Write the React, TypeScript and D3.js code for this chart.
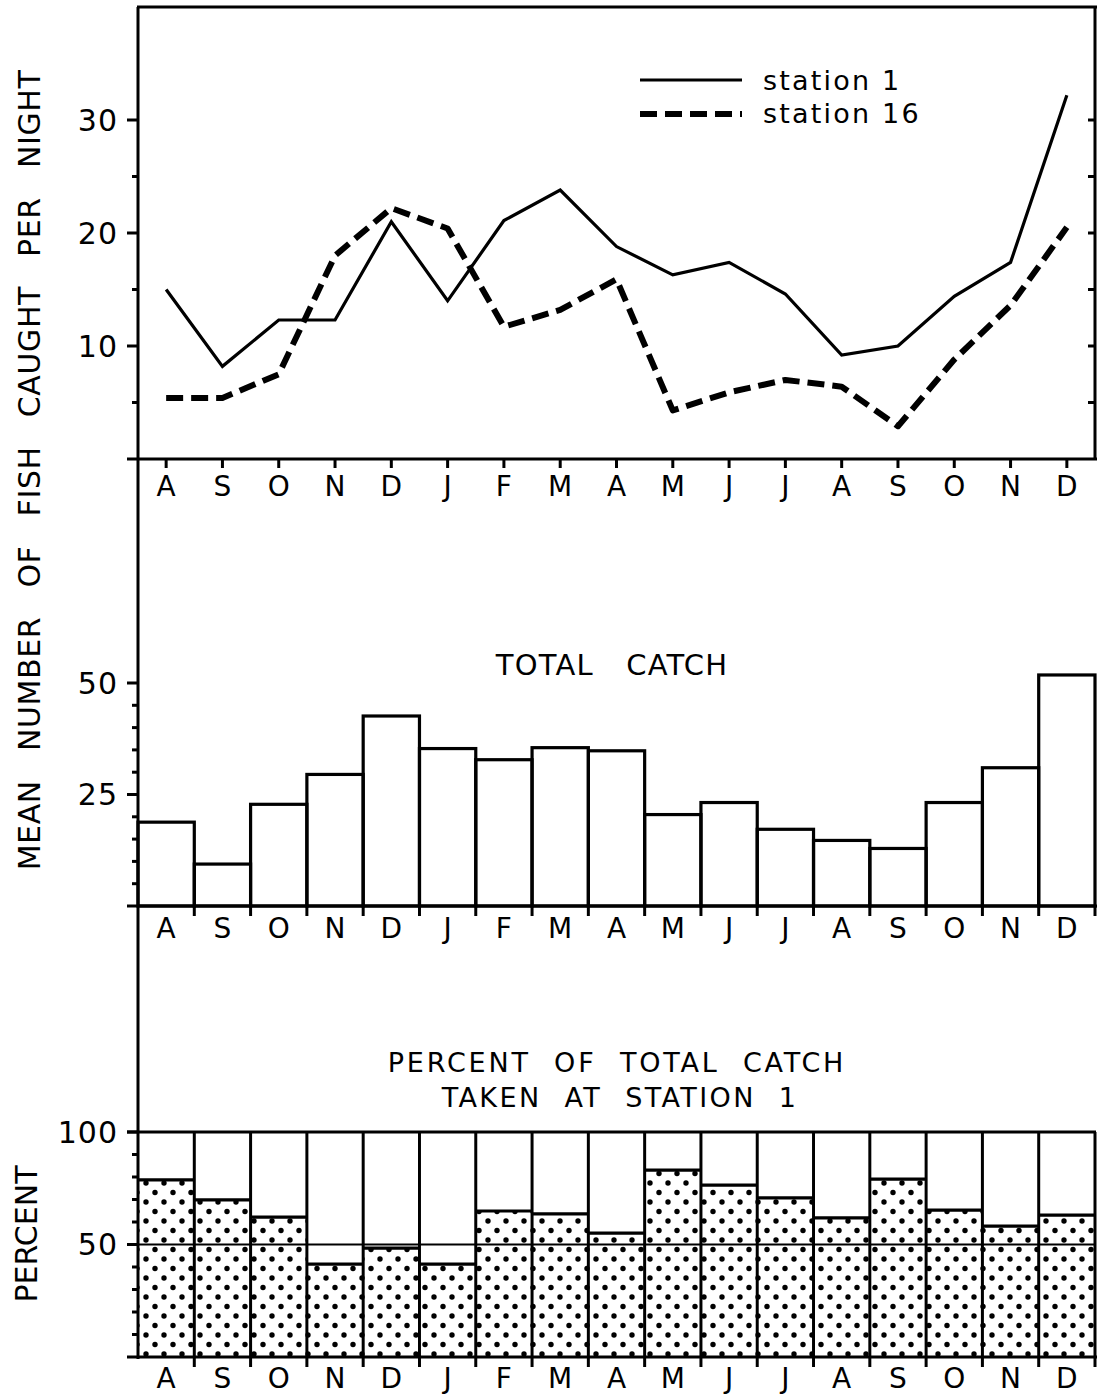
import React from 'react';
import * as d3 from 'd3';

// Month sequence (August through the following December)
const months = ['A', 'S', 'O', 'N', 'D', 'J', 'F', 'M', 'A', 'M', 'J', 'J', 'A', 'S', 'O', 'N', 'D'];

// Mean number of fish caught per night
const station1 = [15.0, 8.2, 12.3, 12.3, 21.0, 14.0, 21.1, 23.8, 18.8, 16.3, 17.4, 14.6, 9.2, 10.0, 14.4, 17.4, 32.2];
const station16 = [5.4, 5.4, 7.5, 18.0, 22.2, 20.4, 11.7, 13.2, 15.9, 4.3, 5.9, 7.0, 6.4, 2.9, 8.8, 13.6, 20.5];

// Total catch (both stations)
const totalCatch = [18.8, 9.4, 22.8, 29.5, 42.6, 35.3, 32.8, 35.5, 34.8, 20.5, 23.2, 17.2, 14.7, 12.9, 23.2, 31.0, 51.8];

// Percent of total catch taken at station 1
const percentStation1 = [78.7, 69.8, 62.2, 41.3, 48.4, 41.3, 64.9, 63.6, 55.1, 83.1, 76.4, 70.7, 61.8, 79.1, 65.3, 58.2, 63.1];

// Axis tick values
const ticksTop = [5, 10, 15, 20, 25, 30];
const ticksTopLabeled = [10, 20, 30];
const ticksMid = [5, 10, 15, 20, 25, 30, 35, 40, 45, 50];
const ticksMidLabeled = [25, 50];
const ticksBot = [10, 20, 30, 40, 50, 60, 70, 80, 90, 100];
const ticksBotLabeled = [50, 100];

const W = 1097;
const H = 1397;
const FONT = '"DejaVu Sans", "Liberation Sans", sans-serif';
const INK = '#000';

export default function App() {
  const xLeft = 138;
  const xRight = 1095;
  const idx = d3.range(months.length);
  const x = d3.scaleBand<number>().domain(idx).range([xLeft, xRight]).padding(0);
  const bw = x.bandwidth();
  const cx = (i: number) => (x(i) as number) + bw / 2;

  const y1 = d3.scaleLinear().domain([0, 40]).range([459, 7]);
  const y2 = d3.scaleLinear().domain([0, 50]).range([906, 683]);
  const y3 = d3.scaleLinear().domain([0, 100]).range([1357, 1132]);

  const line = d3
    .line<number>()
    .x((_, i) => cx(i))
    .y((d) => y1(d));

  const boundaries = d3.range(1, months.length + 1).map((i) => (i < months.length ? (x(i) as number) : xRight));

  const tickFont = { fontFamily: FONT, fontSize: 30, fill: INK } as const;
  const monthFont = { fontFamily: FONT, fontSize: 28, fill: INK } as const;

  const leftTicks = (
    scale: d3.ScaleLinear<number, number>,
    values: number[],
    labeled: number[],
    key: string
  ) =>
    values.map((v) => {
      const major = labeled.includes(v);
      return (
        <g key={`${key}-${v}`}>
          <line x1={xLeft - (major ? 11 : 6)} x2={xLeft} y1={scale(v)} y2={scale(v)} stroke={INK} strokeWidth={3} />
          {major && (
            <text x={118} y={scale(v)} dy="0.36em" textAnchor="end" letterSpacing={1} {...tickFont}>
              {v}
            </text>
          )}
        </g>
      );
    });

  return (
    <svg
      width={W}
      height={H}
      viewBox={`0 0 ${W} ${H}`}
      style={{ position: 'absolute', left: 0, top: 0, background: '#fff' }}
    >
      <defs>
        <pattern id="stipple" patternUnits="userSpaceOnUse" width={18} height={19} x={xLeft + 4} y={0}>
          <circle cx={4} cy={5} r={2.7} fill={INK} />
          <circle cx={13} cy={14.5} r={2.7} fill={INK} />
        </pattern>
      </defs>
      <rect x={0} y={0} width={W} height={H} fill="#fff" />

      {/* shared vertical axis */}
      <line x1={xLeft} x2={xLeft} y1={y1(40)} y2={y3(0) + 2} stroke={INK} strokeWidth={3} />

      {/* ---------- top panel: catch per night ---------- */}
      <line x1={xLeft - 1} x2={W} y1={y1(40)} y2={y1(40)} stroke={INK} strokeWidth={3} />
      <line x1={xRight} x2={xRight} y1={y1(40)} y2={y1(0)} stroke={INK} strokeWidth={3} />
      {ticksTop.map((v) => (
        <line key={`rt-${v}`} x1={xRight - 7} x2={xRight} y1={y1(v)} y2={y1(v)} stroke={INK} strokeWidth={3} />
      ))}
      {leftTicks(y1, ticksTop, ticksTopLabeled, 't')}
      <line x1={xLeft - 11} x2={W} y1={y1(0)} y2={y1(0)} stroke={INK} strokeWidth={3} />
      {idx.map((i) => (
        <g key={`m1-${i}`}>
          <line x1={cx(i)} x2={cx(i)} y1={y1(0)} y2={y1(0) + 9} stroke={INK} strokeWidth={3} />
          <text x={cx(i)} y={496} textAnchor="middle" {...monthFont}>
            {months[i]}
          </text>
        </g>
      ))}
      <path d={line(station1) ?? ''} fill="none" stroke={INK} strokeWidth={3.2} strokeLinejoin="miter" />
      <path
        d={line(station16) ?? ''}
        fill="none"
        stroke={INK}
        strokeWidth={6}
        strokeDasharray="17 8"
        strokeLinejoin="round"
      />

      {/* legend */}
      <line x1={640} x2={742} y1={80} y2={80} stroke={INK} strokeWidth={3} />
      <text x={763} y={90} fontFamily={FONT} fontSize={27} letterSpacing={2.2} fill={INK}>
        station 1
      </text>
      <line x1={640} x2={742} y1={114} y2={114} stroke={INK} strokeWidth={6} strokeDasharray="17 8" />
      <text x={763} y={123} fontFamily={FONT} fontSize={27} letterSpacing={2.2} fill={INK}>
        station 16
      </text>

      {/* ---------- middle panel: total catch ---------- */}
      <text
        x={612}
        y={675}
        textAnchor="middle"
        fontFamily={FONT}
        fontSize={29}
        letterSpacing={1.2}
        wordSpacing={22}
        fill={INK}
      >
        TOTAL CATCH
      </text>
      {leftTicks(y2, ticksMid, ticksMidLabeled, 'm')}
      {totalCatch.map((v, i) => (
        <rect
          key={`bar-${i}`}
          x={x(i)}
          y={y2(v)}
          width={bw}
          height={y2(0) - y2(v)}
          fill="none"
          stroke={INK}
          strokeWidth={3.2}
        />
      ))}
      <line x1={xLeft - 11} x2={W} y1={y2(0)} y2={y2(0)} stroke={INK} strokeWidth={3} />
      {boundaries.map((bx, i) => (
        <line key={`b2-${i}`} x1={bx} x2={bx} y1={y2(0)} y2={y2(0) + 10} stroke={INK} strokeWidth={3} />
      ))}
      {idx.map((i) => (
        <text key={`m2-${i}`} x={cx(i)} y={938} textAnchor="middle" {...monthFont}>
          {months[i]}
        </text>
      ))}

      {/* ---------- bottom panel: percent at station 1 ---------- */}
      <text
        x={617}
        y={1072}
        textAnchor="middle"
        fontFamily={FONT}
        fontSize={27}
        letterSpacing={2.8}
        wordSpacing={12}
        fill={INK}
      >
        PERCENT OF TOTAL CATCH
      </text>
      <text
        x={620}
        y={1107}
        textAnchor="middle"
        fontFamily={FONT}
        fontSize={27}
        letterSpacing={2.4}
        wordSpacing={12}
        fill={INK}
      >
        TAKEN AT STATION 1
      </text>
      {percentStation1.map((v, i) => (
        <rect key={`st-${i}`} x={x(i)} y={y3(v)} width={bw} height={y3(0) - y3(v)} fill="url(#stipple)" />
      ))}
      <line x1={xLeft} x2={xRight} y1={y3(50)} y2={y3(50)} stroke={INK} strokeWidth={2} />
      {percentStation1.map((v, i) => (
        <line
          key={`pv-${i}`}
          x1={x(i)}
          x2={(x(i) as number) + bw}
          y1={y3(v)}
          y2={y3(v)}
          stroke={INK}
          strokeWidth={3.2}
        />
      ))}
      <line x1={xLeft - 11} x2={xRight + 1} y1={y3(100)} y2={y3(100)} stroke={INK} strokeWidth={3} />
      {boundaries.map((bx, i) => (
        <line key={`b3-${i}`} x1={bx} x2={bx} y1={y3(100)} y2={y3(0) + 10} stroke={INK} strokeWidth={3} />
      ))}
      <line x1={xLeft - 11} x2={W} y1={y3(0)} y2={y3(0)} stroke={INK} strokeWidth={3} />
      {leftTicks(y3, ticksBot, ticksBotLabeled, 'b')}
      {idx.map((i) => (
        <text key={`m3-${i}`} x={cx(i)} y={1388} textAnchor="middle" {...monthFont}>
          {months[i]}
        </text>
      ))}

      {/* vertical axis titles */}
      <text
        transform={`translate(40, 470) rotate(-90)`}
        textAnchor="middle"
        fontFamily={FONT}
        fontSize={30}
        letterSpacing={0.6}
        wordSpacing={19}
        fill={INK}
      >
        MEAN NUMBER OF FISH CAUGHT PER NIGHT
      </text>
      <text
        transform={`translate(37, 1234) rotate(-90)`}
        textAnchor="middle"
        fontFamily={FONT}
        fontSize={30}
        fill={INK}
      >
        PERCENT
      </text>
    </svg>
  );
}
